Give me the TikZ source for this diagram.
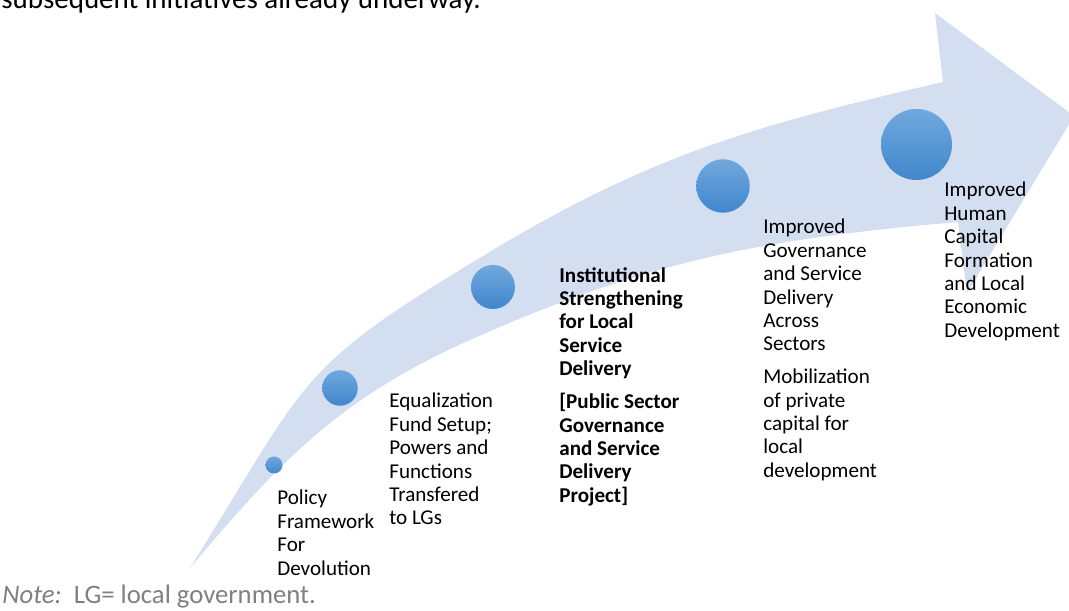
\documentclass[tikz,border=0pt]{standalone}
\usepackage{fontspec}
\setmainfont{Carlito}
\definecolor{bandblue}{RGB}{211,222,240}
\definecolor{dottop}{RGB}{113,168,222}
\definecolor{dotbot}{RGB}{64,135,204}
\definecolor{notegray}{RGB}{128,128,128}
\tikzset{
	dot/.style={circle,inner sep=0pt,top color=dottop,bottom color=dotbot},
	stage/.style={anchor=north west,inner sep=0pt,align=left,font=\fontsize{12}{13.3}\selectfont},
	stagebold/.style={stage,font=\fontsize{12}{13.3}\selectfont\bfseries}
}
\begin{document}
\begin{tikzpicture}[line join=round]
	\useasboundingbox (0,0) rectangle (21.38,12.22);
	\clip (0,0) rectangle (21.38,12.22);
	% curved arrow: tail, upper edge, head, lower edge
	\path
	(3.80,0.86) coordinate (T)
	(9.86,7.22) coordinate (U)
	(18.86,10.58) coordinate (Un)
	(18.70,11.96) coordinate (Ub)
	(21.48,9.90) coordinate (H)
	(19.34,6.36) coordinate (Lb)
	(19.16,7.78) coordinate (Ln)
	(9.40,5.42) coordinate (L);
	\fill[bandblue] (T)
	to[out=58,in=211,looseness=1.35] (U)
	to[out=31,in=193] (Un)--(Ub)--(H)--(Lb)--(Ln)
	to[out=185,in=24] (L)
	to[out=204,in=50] (T)--cycle;
	% growing dots along the arrow
	\foreach \x/\y/\d [count=\i] in {5.48/2.92/0.34, 6.80/4.46/0.71, 9.86/6.48/0.88, 14.46/8.50/1.07, 18.33/9.33/1.42}
	\node[dot,minimum size=\d cm] (dot\i) at (\x,\y) {};
	% stage labels
	\node[stage] (policy) at (5.54,2.42) {Policy\\Framework\\For\\Devolution};
	\node[stage] (fund) at (7.78,4.36) {Equalization\\Fund Setup;\\Powers and\\Functions\\Transfered\\to LGs};
	\node[stagebold] (psgsd) at (11.18,6.88) {Institutional\\Strengthening\\for Local\\Service\\Delivery\\[5.5pt][Public Sector\\Governance\\and Service\\Delivery\\Project]};
	\node[stage] (gov) at (15.26,7.84) {Improved\\Governance\\and Service\\Delivery\\Across\\Sectors\\[5.5pt]Mobilization\\of private\\capital for\\local\\development};
	\node[stage] (human) at (18.88,8.58) {Improved\\Human\\Capital\\Formation\\and Local\\Economic\\Development};
	% running text above and note below
	\node[anchor=base west,inner sep=0pt,font=\fontsize{16.5}{19}\selectfont] (lead) at (0.02,12.04) {subsequent initiatives already underway.};
	\node[anchor=base west,inner sep=0pt,text=notegray,font=\fontsize{15.2}{17}\selectfont] (note) at (0.04,0.14) {\textit{Note:}\ \ LG= local government.};
\end{tikzpicture}
\end{document}
